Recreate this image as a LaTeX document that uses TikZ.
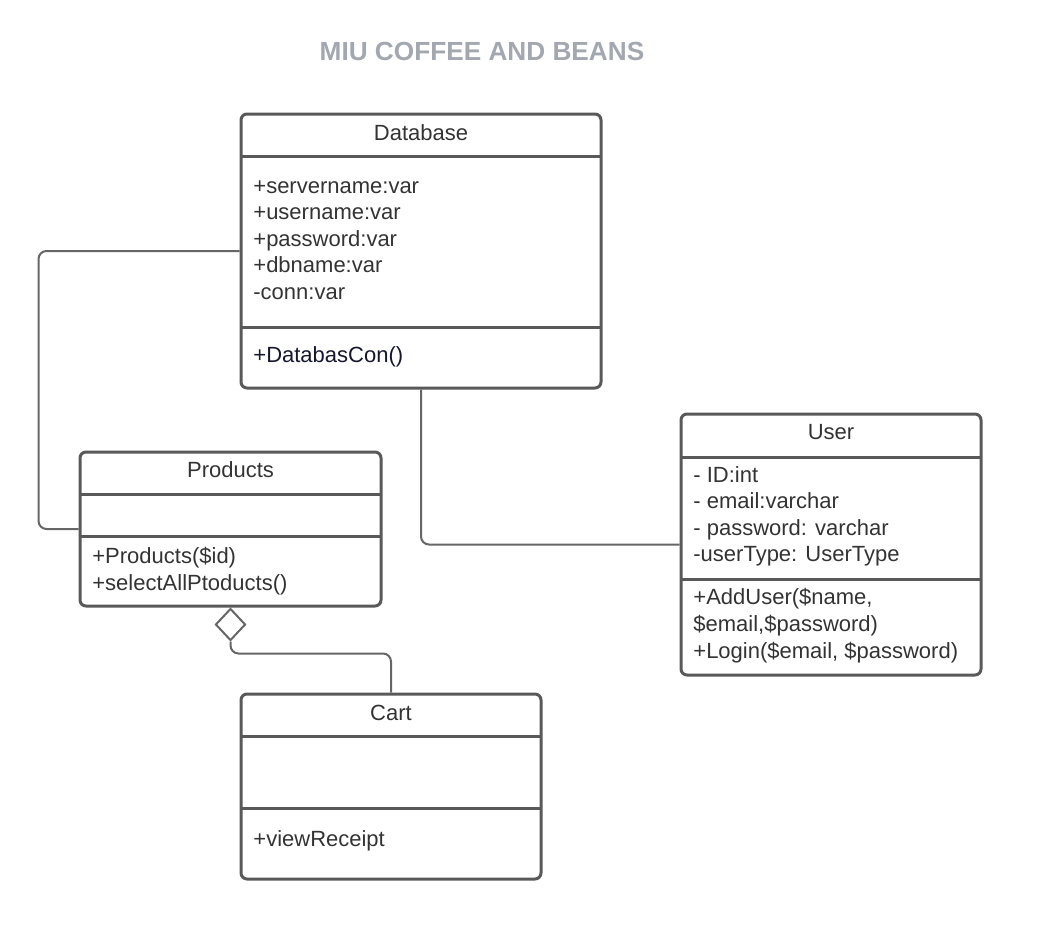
\documentclass[tikz,border=0pt]{standalone}
\usepackage{fontspec}
\setmainfont{Liberation Sans}
\usetikzlibrary{shapes.geometric}
\definecolor{boxline}{HTML}{595959}
\definecolor{wire}{HTML}{666666}
\definecolor{txt}{HTML}{333333}
\definecolor{ttl}{HTML}{A3A8B0}
\definecolor{navy}{HTML}{16162E}

\begin{document}
\begin{tikzpicture}[x=0.5pt,y=-0.5pt,
    every node/.style={font=\fontsize{11}{13.5}\selectfont},
    classbox/.style={draw=boxline, line width=1.5pt, rounded corners=3pt, inner sep=0pt},
    sect/.style={draw=boxline, line width=1.5pt},
    conn/.style={draw=wire, line width=1pt, rounded corners=4pt},
    head/.style={anchor=base, inner sep=0pt, text=txt},
    member/.style={anchor=base west, inner sep=0pt, text=txt}]
      \useasboundingbox (0,0) rectangle (1044,927);
      \node (title) at (482,60) [anchor=base, inner sep=0pt, text=ttl,
            font=\bfseries\fontsize{13.1}{15}\selectfont] {MIU COFFEE AND BEANS};

      % Database
      \node (db) at (421,251) [classbox, minimum width=180pt, minimum height=137pt] {};
      \draw[sect] (241,156) -- (601,156);
      \draw[sect] (241,327) -- (601,327);
      \node (dbh) at (421,140) [head] {Database};
      \foreach \t [count=\i] in {+servername:var, +username:var, +password:var, +dbname:var, -conn:var}
               {
                 \node (dba\i) at (253,{193.5+26.4*(\i-1)}) [member] {\t};
               }
      \node (dbm1) at (253,362.5) [member, text=navy] {+DatabasCon()};

      % Products
      \node (prod) at (230.5,529) [classbox, minimum width=150.5pt, minimum height=77pt] {};
      \draw[sect] (80,494) -- (381,494);
      \draw[sect] (80,536) -- (381,536);
      \node (prodh) at (230.5,477.5) [head] {Products};
      \node (prodm1) at (92,563.5) [member] {+Products(\$id)};
      \node (prodm2) at (92,590.2) [member] {+selectAllPtoducts()};

      % User
      \node (user) at (831,544.5) [classbox, minimum width=150pt, minimum height=130.5pt] {};
      \draw[sect] (681,457) -- (981,457);
      \draw[sect] (681,579) -- (981,579);
      \node (userh) at (831,439.5) [head] {User};
      \foreach \t [count=\i] in {- ID:int, - email:varchar, - password: varchar, -userType: UserType}
               {
                 \node (usera\i) at (693,{482+26.5*(\i-1)}) [member] {\t};
               }
      \foreach \t [count=\i] in {{+AddUser(\$name,}, {\$email,\$password)}, {+Login(\$email, \$password)}}
               {
                 \node (userm\i) at (693,{604.5+26.9*(\i-1)}) [member] {\t};
               }

      % Cart
      \node (cart) at (391,786.5) [classbox, minimum width=150pt, minimum height=92.5pt] {};
      \draw[sect] (241,736) -- (541,736);
      \draw[sect] (241,808) -- (541,808);
      \node (carth) at (391,720) [head] {Cart};
      \node (cartm1) at (253,846.5) [member] {+viewReceipt};

      % connectors
      \draw[conn] (db.south) |- (user.west);
      \draw[conn] (db.west) -- ++(-201,0) |- (prod.west);
      \node (agg) at (prod.south) [diamond, draw=wire, line width=1pt, anchor=north,
            minimum width=15pt, minimum height=16pt, inner sep=0pt] {};
      \draw[conn] (agg.south) -- ++(0,12) -| (cart.north);
\end{tikzpicture}
\end{document}
